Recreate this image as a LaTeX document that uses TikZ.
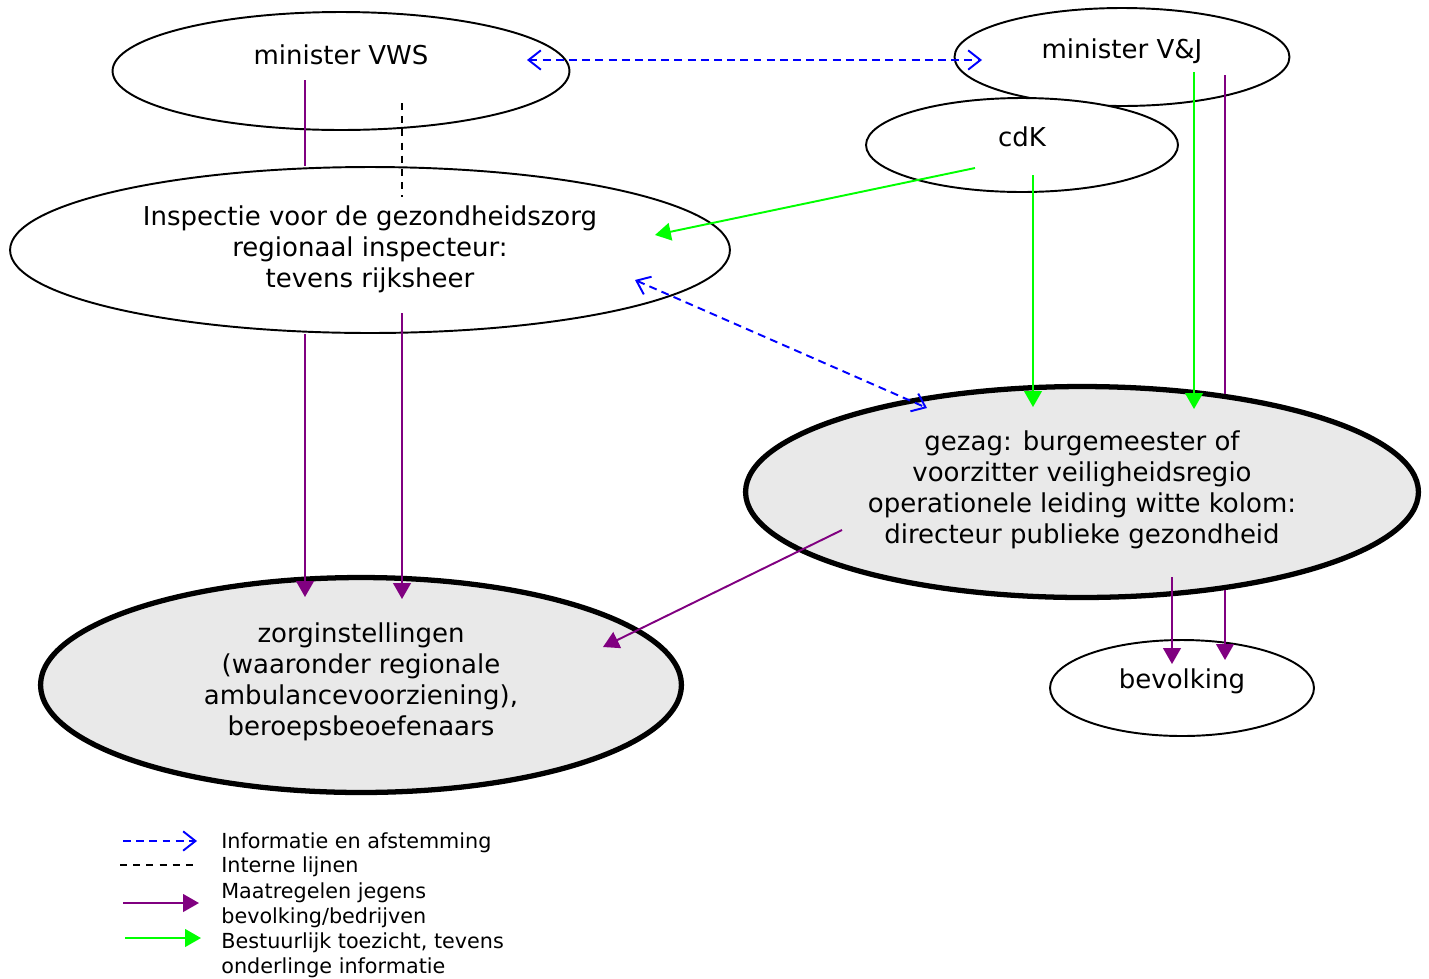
\documentclass[tikz,border=0pt]{standalone}
\usepackage{fontspec}
\setmainfont{DejaVu Sans}
\usetikzlibrary{shapes.geometric,arrows.meta,calc}

\definecolor{infoblue}{RGB}{0,0,255}
\definecolor{maatpurple}{RGB}{128,0,128}
\definecolor{toezgreen}{RGB}{0,255,0}
\definecolor{kolomgray}{RGB}{233,233,233}

\tikzset{
  oval/.style={ellipse, draw, line width=1.1pt, fill=white, inner sep=0pt},
  zwaar/.style={oval, line width=3pt, fill=kolomgray},
  txt/.style={font=\fontsize{14.8}{17.6}\selectfont, align=center},
  leg/.style={font=\fontsize{11.8}{14.2}\selectfont, align=left, anchor=west, inner sep=0pt},
  info/.style={draw=infoblue, line width=1.1pt, dash pattern=on 4.5pt off 3pt,
    >={Straight Barb[length=7pt,width=11pt,line width=1.1pt]}},
  intern/.style={draw, line width=1.1pt, dash pattern=on 4pt off 3.5pt},
  maat/.style={draw=maatpurple, line width=1.1pt, >={Triangle[length=9pt,width=10pt]}},
  toez/.style={draw=toezgreen, line width=1.1pt, >={Triangle[length=9pt,width=10pt]}}
}

\begin{document}
\begin{tikzpicture}[x=0.02cm, y=-0.02cm]
  \useasboundingbox (0,0) rectangle (1429,978);

  \node[oval, minimum width=9.14cm, minimum height=2.36cm,
    label={[txt, yshift=0.33cm]center:minister VWS}] (vws) at (341,71) {};
  \node[oval, minimum width=6.70cm, minimum height=1.96cm,
    label={[txt, yshift=0.12cm]center:minister V\&J}] (vj) at (1122,57) {};
  \node[oval, minimum width=6.24cm, minimum height=1.88cm,
    label={[txt, yshift=0.17cm]center:cdK}] (cdk) at (1022,145) {};
  \node[oval, minimum width=14.40cm, minimum height=3.32cm,
    label={[txt, yshift=0.02cm]center:Inspectie voor de gezondheidszorg\\regionaal inspecteur:\\tevens rijksheer}] (igz) at (370,250) {};
  \node[zwaar, minimum width=13.46cm, minimum height=4.22cm,
    label={[txt, yshift=0.04cm]center:gezag: burgemeester of\\voorzitter veiligheidsregio\\operationele leiding witte kolom:\\directeur publieke gezondheid}] (gezag) at (1082,492) {};
  \node[zwaar, minimum width=12.82cm, minimum height=4.30cm,
    label={[txt, yshift=0.06cm]center:zorginstellingen\\(waaronder regionale\\ambulancevoorziening),\\beroepsbeoefenaars}] (zorg) at (361,685) {};
  \node[oval, minimum width=5.28cm, minimum height=1.92cm,
    label={[txt, yshift=0.13cm]center:bevolking}] (bev) at (1182,688) {};

  \coordinate (vwsI) at (527,60);
  \coordinate (vjI) at (982,60);
  \coordinate (vwsM) at (305,80);
  \coordinate (vwsD) at (402,103);
  \coordinate (igzD) at (402,197);
  \coordinate (cdkT) at (975,168);
  \coordinate (igzT) at (655,235);
  \coordinate (igzI) at (635,280);
  \coordinate (gezI) at (927,408);
  \coordinate (cdkG) at (1033,175);
  \coordinate (gezC) at (1033,407);
  \coordinate (vjG) at (1194,72);
  \coordinate (gezV) at (1194,409);
  \coordinate (vjM) at (1225,75);
  \coordinate (igzM) at (402,313);
  \coordinate (zorgA) at (305,597);
  \coordinate (zorgB) at (402,599);
  \coordinate (gezM) at (842,530);
  \coordinate (zorgC) at (603,647);
  \coordinate (gezB) at (1172,577);
  \coordinate (bevA) at (1172,664);
  \coordinate (bevB) at (1225,660);

  \draw[info, <->] (vwsI) -- (vjI);
  \draw[intern] (vwsD) -- (igzD);
  \draw[maat] (vwsM) -- (vwsM |- igz.north);
  \draw[toez, ->] (cdkT) -- (igzT);
  \draw[info, <->] (igzI) -- (gezI);
  \draw[toez, ->] (cdkG) -- (gezC);
  \draw[toez, ->] (vjG) -- (gezV);
  \draw[maat] (vjM) -- (vjM |- gezag.34);
  \draw[maat, ->] (zorgA |- igz.south) -- (zorgA);
  \draw[maat, ->] (igzM) -- (zorgB);
  \draw[maat, ->] (gezM) -- (zorgC);
  \draw[maat, ->] (gezB) -- (bevA);
  \draw[maat, ->] (bevB |- gezag.-34) -- (bevB);

  % legenda
  \node[leg] (l1) at (221,843) {Informatie en afstemming};
  \node[leg] (l2) at (221,867) {Interne lijnen};
  \node[leg] (l3) at (221,905) {Maatregelen jegens\\bevolking/bedrijven};
  \node[leg] (l4) at (221,955) {Bestuurlijk toezicht, tevens\\onderlinge informatie};
  \draw[info, ->] ($(l1.west)+(-98,-2)$) -- ($(l1.west)+(-24,-2)$);
  \draw[intern] ($(l2.west)+(-101,-2)$) -- ($(l2.west)+(-24,-2)$);
  \draw[maat, ->] ($(l3.west)+(-98,-2)$) -- ($(l3.west)+(-22,-2)$);
  \draw[toez, ->] ($(l4.west)+(-96,-17)$) -- ($(l4.west)+(-20,-17)$);
\end{tikzpicture}
\end{document}
